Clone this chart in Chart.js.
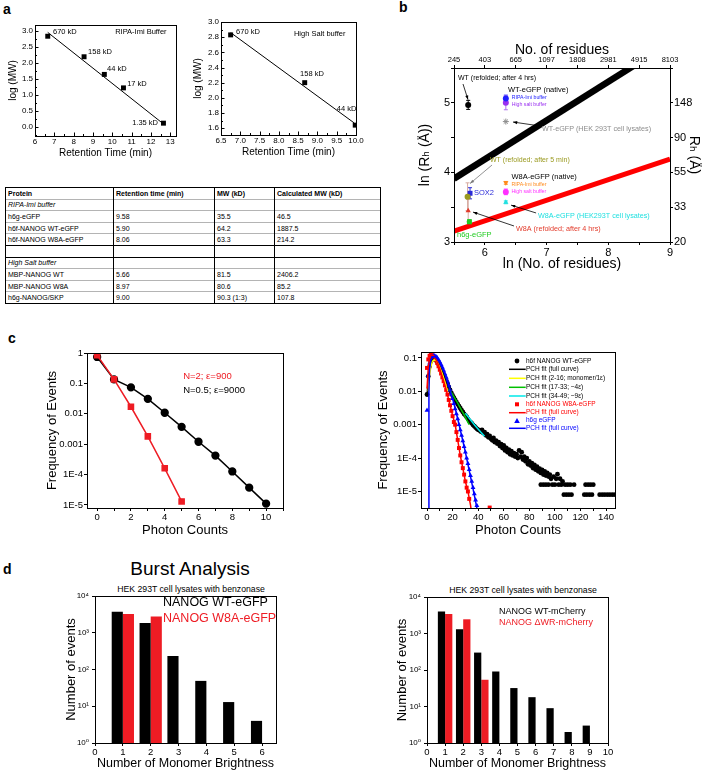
<!DOCTYPE html>
<html>
<head>
<meta charset="utf-8">
<title>NANOG figure</title>
<script src="https://cdn.jsdelivr.net/npm/chart.js@4.4.1/dist/chart.umd.min.js"></script>
<style>
  html, body { margin: 0; padding: 0; background: #fff; }
  body { position: relative; width: 706px; height: 771px; overflow: hidden; font-family: 'Liberation Sans', Arial, sans-serif; color: #000; }
  canvas { position: absolute; }
  .txt { position: absolute; white-space: nowrap; line-height: 1; transform: translate(-50%, -50%); }
  .txt.left { transform: translate(0, -50%); }
  #tbl { position: absolute; left: 5px; top: 187px; border-collapse: collapse; font-size: 7px; border: 1.5px solid #000; }
  #tbl tr { height: 11.6px; }
  #tbl td { padding: 0 0 0 2px; line-height: 1; border-left: 1px solid #000; border-right: 1px solid #000; border-top: 1px solid #b4b4b4; white-space: nowrap; }
  #tbl tr.thick td { border-top: 1.5px solid #000; }
</style>
</head>
<body>
<script>
const FONT = "'Liberation Sans', Arial, 'DejaVu Sans', sans-serif";
Chart.defaults.font.family = FONT;
Chart.defaults.color = '#000';
Chart.defaults.animation = false;
Chart.defaults.responsive = false;
Chart.defaults.plugins.legend.display = false;
Chart.defaults.plugins.tooltip.enabled = false;

// ---------- panel a : calibration curves ----------
const rtRipa = [6.66, 8.54, 9.59, 10.58, 12.65];
const logMwRipa = [2.83, 2.19, 1.64, 1.22, 0.12];
const mwLabelsRipa = ['670 kD', '158 kD', '44 kD', '17 kD', '1.35 kD'];
const fitRipaX = [6.66, 12.6];
const fitRipaY = [2.95, 0.12];

const rtSalt = [6.75, 8.67, 9.98];
const logMwSalt = [2.83, 2.2, 1.64];
const mwLabelsSalt = ['670 kD', '158 kD', '44 kD'];
const fitSaltX = [6.75, 9.95];
const fitSaltY = [2.86, 1.67];

// table
const tblHead = ['Protein', 'Retention time (min)', 'MW (kD)', 'Calculated MW (kD)'];
const tblRipa = [
  ['h6g-eGFP', '9.58', '35.5', '46.5'],
  ['h6f-NANOG WT-eGFP', '5.90', '64.2', '1887.5'],
  ['h6f-NANOG W8A-eGFP', '8.06', '63.3', '214.2']
];
const tblSalt = [
  ['MBP-NANOG WT', '5.66', '81.5', '2406.2'],
  ['MBP-NANOG W8A', '8.97', '80.6', '85.2'],
  ['h6g-NANOG/SKP', '9.00', '90.3 (1:3)', '107.8']
];

// ---------- panel b : Rh vs residues ----------
const bLnN  = [5.73, 6.34, 6.34, 6.34, 5.72, 5.76, 5.73, 5.75, 6.34, 6.34, 6.34];
const bLnRh = [4.97, 5.06, 5.00, 4.73, 3.65, 3.70, 3.45, 3.29, 3.85, 3.72, 3.57];
const bErr  = [0.065, 0.05, 0.10, 0, 0.20, 0.08, 0.16, 0.03, 0.02, 0.04, 0.02];
const unfoldedX = [5.5, 9.0];
const unfoldedY = [3.91, 5.86];
const foldedX = [5.5, 9.0];
const foldedY = [3.155, 4.19];
const residueTicks = ['245', '403', '665', '1097', '1808', '2981', '4915', '8103'];
const rhTicks = ['20', '33', '55', '90', '148'];

// ---------- panel c : PCH ----------
const simCounts = [0, 1, 2, 3, 4, 5, 6, 7, 8, 9, 10];
const simN05 = [0.74, 0.135, 0.074, 0.031, 0.0108, 0.0037, 0.0012, 0.00042, 0.000126, 0.000037, 0.000011];
const simCountsN2 = [0, 1, 2, 3, 4, 5];
const simN2 = [0.85, 0.135, 0.017, 0.0018, 0.00016, 0.000013];
const logTicksC = [1, 0.1, 0.01, 0.001, 1e-4, 1e-5];
const logLabelsC = ['1', '0.1', '0.01', '0.001', '1E-4', '1E-5'];

const wtX = [0,1,2,3,4,5,6,7,8,9,10,11,12,13,14,15,16,17,18,19,20,21,22,23,24,25,26,27,28,29,30,31,32,33,34,35,36,37,38,39,40,
  41,42,43,44,45,46,47,48,49,50,51,52,53,54,55,56,57,58,59,60,61,62,63,64,65,66,67,68,69,70,71,72,73,74,75,76,77,78,79,80,
  81,82,83,84,85,86,87,88,89,90,91,92,93,94,95,96,97,99,101,102,104,106,
  89,91,93,95,98,100,103,105,108,110,112,115,124,126,128,130,
  107,109,111,113,123,125,127,129,135,137,139,141,143,145,147];
const wtY = [0.008,0.028,0.055,0.078,0.09,0.095,0.092,0.085,0.076,0.066,0.056,0.047,0.039,0.032,0.026,0.021,0.017,0.0135,0.011,0.009,0.0075,
  0.0064,0.0055,0.0047,0.0041,0.0036,0.0031,0.0027,0.0024,0.0021,0.0019,0.0017,0.0015,0.0013,0.0012,0.0011,0.00098,0.0009,0.00082,0.00075,0.0007,
  0.00068,0.00062,0.0007,0.00056,0.0006,0.00048,0.00052,0.00042,0.00046,0.00038,0.00034,0.0004,0.0003,0.00033,0.00027,0.0003,0.00023,0.00026,0.0002,0.00024,
  0.00017,0.0002,0.00015,0.00018,0.00013,0.00016,0.00012,0.00014,0.00011,0.00013,0.0001,0.00017,0.00011,0.00015,0.00009,0.00011,0.00008,0.0001,0.000065,0.00008,
  0.00006,0.00007,0.00005,0.000062,0.000045,0.000055,0.00004,0.000048,0.000036,0.000044,0.000032,0.00004,0.00003,0.000036,0.000028,0.000032,0.000024,0.000028,0.000024,0.000033,0.000024,0.00002,
  1.6e-5,1.6e-5,1.6e-5,1.6e-5,1.6e-5,1.6e-5,1.6e-5,1.6e-5,1.6e-5,1.6e-5,1.6e-5,1.6e-5,1.6e-5,1.6e-5,1.6e-5,1.6e-5,
  8e-6,8e-6,8e-6,8e-6,8e-6,8e-6,8e-6,8e-6,8e-6,8e-6,8e-6,8e-6,8e-6,8e-6,8e-6];
const w8aX = [0,1,2,3,4,5,6,7,8,9,10,11,12,13,14,15,16,17,18,19,20,21,22,23,24,25,26,27,28,29,30,31,32,33,49];
const w8aY = [0.05,0.09,0.115,0.125,0.12,0.11,0.1,0.085,0.07,0.056,0.044,0.034,0.026,0.02,0.015,0.011,0.008,0.0055,0.0038,0.0026,0.0018,
  0.0012,0.001,0.0006,0.00035,0.0002,0.00012,0.000075,0.00005,0.000032,0.00002,0.000013,0.00001,0.000006,0.0000033];
const egfpX = [0,1,2,3,4,5,6,7,8,9,10,11,12,13,14,15,16,17,18,19,20,21,22,23,24,25,26,27,28,29,30,31,32,33,34,35,36,37,38,39];
const egfpY = [0.0027,0.03,0.07,0.095,0.11,0.115,0.115,0.11,0.1,0.088,0.075,0.063,0.052,0.042,0.033,0.026,0.02,0.015,0.011,0.0082,0.006,
  0.0043,0.003,0.0021,0.0015,0.001,0.0007,0.00048,0.00033,0.00022,0.00015,0.0001,0.000068,0.000045,0.00003,0.00002,0.000013,0.0000085,0.0000055,0.0000038];
const wtFitX = [0,1,2,3,4,5,6,8,10,12,14,16,18,20,24,28,32,36,40,44];
const wtFitY = [0.007,0.025,0.05,0.072,0.085,0.09,0.088,0.075,0.055,0.039,0.026,0.017,0.011,0.0077,0.0042,0.0025,0.0016,0.0011,0.00075,0.00055];
const monoFitX = [1,2,3,4,5,6,7,8,10,12,14,16];
const monoFitY = [0.01,0.03,0.055,0.075,0.085,0.087,0.083,0.074,0.052,0.033,0.019,0.01];
const tetFitX = [17,20,23,26,29,31,33];
const tetFitY = [0.012,0.008,0.0052,0.0032,0.002,0.0014,0.001];
const nonFitX = [30,34,38,42,45];
const nonFitY = [0.0022,0.0014,0.0009,0.0006,0.00045];
const w8aFitX = [0,1,2,3,4,5,6,8,10,12,14,16,18,20,22,24,26,28,30,32,34,35];
const w8aFitY = [0.012,0.05,0.09,0.115,0.122,0.118,0.105,0.075,0.047,0.027,0.015,0.0078,0.0039,0.0019,0.001,0.00035,0.00012,0.00005,0.00002,0.00001,0.000004,0.000002];
const egfpFitX = [1,1.5,2,3,4,6,8,10,12,14,16,18,20,22,24,26,28,30,32,34,36,38,40];
const egfpFitY = [1e-7,0.01,0.045,0.085,0.105,0.11,0.095,0.073,0.05,0.032,0.019,0.011,0.006,0.0031,0.0015,0.0007,0.00033,0.00015,0.000065,0.000028,0.000012,0.000005,0.000002];

// ---------- panel d : burst analysis ----------
const brightEgfp = [1, 2, 3, 4, 5, 6];
const eventsWtEgfp = [3700, 1830, 234, 49, 13, 4];
const eventsW8aEgfp = [3240, 2760];
const brightMch = [1, 2, 3, 4, 5, 6, 7, 8, 9];
const eventsWtMch = [4000, 1300, 300, 91, 32, 18, 9, 2, 3];
const eventsDwrMch = [3400, 2450, 54];
const logTicksD = [1, 10, 100, 1000, 10000];
const logLabelsD = ['10\u2070', '10\u00b9', '10\u00b2', '10\u00b3', '10\u2074'];

// ---------- helpers ----------
const pts = (xs, ys) => xs.map((x, i) => ({ x: x, y: ys[i] }));

function addText(str, x, y, css, left) {
  const d = document.createElement('div');
  d.className = 'txt' + (left ? ' left' : '');
  d.style.left = x + 'px';
  d.style.top = y + 'px';
  d.style.cssText += css || '';
  d.textContent = str;
  document.body.appendChild(d);
}

function place(box) {
  const c = document.createElement('canvas');
  c.width = box.w; c.height = box.h;
  c.style.left = box.l + 'px'; c.style.top = box.t + 'px';
  c.style.width = box.w + 'px'; c.style.height = box.h + 'px';
  document.body.appendChild(c);
  return c;
}

function ax(type, min, max, fit, ticks, title, extra) {
  return Object.assign({
    type: type, min: min, max: max,
    afterFit: fit,
    grid: { display: true, drawOnChartArea: false, drawTicks: true, tickLength: 3, offset: false, color: '#000', tickColor: '#000', tickWidth: 1 },
    border: { display: true, color: '#000', width: 1 },
    ticks: Object.assign({ autoSkip: false, maxRotation: 0, padding: 1, includeBounds: false, color: '#000' }, ticks),
    title: title ? Object.assign({ display: true, color: '#000', padding: 0 }, title) : { display: false }
  }, extra || {});
}
const wFit = w => s => { s.width = w; };
const hFit = h => s => { s.height = h; };
const noTicks = { display: true, drawOnChartArea: false, drawTicks: false, offset: false, color: '#000' };

Chart.register({
  id: 'frame',
  afterDatasetsDraw(chart) {
    const a = chart.chartArea, ctx = chart.ctx;
    ctx.save();
    ctx.strokeStyle = '#000'; ctx.lineWidth = 1;
    ctx.strokeRect(Math.round(a.left) + 0.5, Math.round(a.top) + 0.5, Math.round(a.right - a.left), Math.round(a.bottom - a.top));
    ctx.restore();
  }
});

Chart.register({
  id: 'errbars',
  beforeDatasetsDraw(chart) {
    const ys = chart.scales.y, ctx = chart.ctx;
    chart.data.datasets.forEach((ds, i) => {
      if (!ds.err) return;
      const meta = chart.getDatasetMeta(i);
      meta.data.forEach((pt, j) => {
        const e = ds.err[j];
        if (!e) return;
        const v = ds.data[j].y;
        const y1 = ys.getPixelForValue(v - e), y2 = ys.getPixelForValue(v + e);
        ctx.save();
        ctx.strokeStyle = ds.errColor || ds.borderColor;
        ctx.lineWidth = 1;
        ctx.beginPath();
        ctx.moveTo(pt.x, y1); ctx.lineTo(pt.x, y2);
        ctx.moveTo(pt.x - 2, y1); ctx.lineTo(pt.x + 2, y1);
        ctx.moveTo(pt.x - 2, y2); ctx.lineTo(pt.x + 2, y2);
        ctx.stroke();
        ctx.restore();
      });
    });
  }
});

// Origin-style ticks pointing into the plot (panel a)
const inTicks = {
  id: 'inTicks',
  afterDatasetsDraw(chart) {
    const ctx = chart.ctx, a = chart.chartArea;
    ctx.save();
    ctx.strokeStyle = '#000'; ctx.lineWidth = 1;
    ['x', 'y'].forEach(id => {
      const s = chart.scales[id];
      s.ticks.forEach(t => {
        const len = t.label !== '' ? 3.5 : 2;
        const p = Math.round(s.getPixelForValue(t.value)) + 0.5;
        ctx.beginPath();
        if (id === 'x') { ctx.moveTo(p, a.bottom); ctx.lineTo(p, a.bottom - len); }
        else { ctx.moveTo(a.left, p); ctx.lineTo(a.left + len, p); }
        ctx.stroke();
      });
    });
    ctx.restore();
  }
};

// text and arrows placed in data coordinates
function notes(items) {
  return {
    id: 'notes',
    afterDraw(chart) {
      const ctx = chart.ctx, xs = chart.scales.x, ys = chart.scales.y;
      ctx.save();
      items.forEach(n => {
        if (n.arrow) {
          const x1 = xs.getPixelForValue(n.arrow[0]), y1 = ys.getPixelForValue(n.arrow[1]);
          const x2 = xs.getPixelForValue(n.arrow[2]), y2 = ys.getPixelForValue(n.arrow[3]);
          const ang = Math.atan2(y2 - y1, x2 - x1);
          ctx.strokeStyle = n.c || '#000'; ctx.fillStyle = n.c || '#000'; ctx.lineWidth = 0.8;
          ctx.beginPath(); ctx.moveTo(x1, y1); ctx.lineTo(x2, y2); ctx.stroke();
          ctx.beginPath();
          ctx.moveTo(x2, y2);
          ctx.lineTo(x2 - 4.5 * Math.cos(ang - 0.35), y2 - 4.5 * Math.sin(ang - 0.35));
          ctx.lineTo(x2 - 4.5 * Math.cos(ang + 0.35), y2 - 4.5 * Math.sin(ang + 0.35));
          ctx.closePath(); ctx.fill();
          return;
        }
        ctx.font = (n.w || '') + ' ' + n.s + 'px ' + FONT;
        ctx.fillStyle = n.c || '#000';
        ctx.textAlign = n.a || 'left';
        ctx.textBaseline = 'middle';
        ctx.fillText(n.t, xs.getPixelForValue(n.x), ys.getPixelForValue(n.y));
      });
      ctx.restore();
    }
  };
}

// legend rows placed relative to the plot's top-left corner
function keys(rows) {
  return {
    id: 'keys',
    afterDraw(chart) {
      const ctx = chart.ctx, a = chart.chartArea;
      ctx.save();
      rows.forEach(r => {
        const y = a.top + r.dy;
        if (r.line) {
          ctx.strokeStyle = r.line; ctx.lineWidth = r.lw || 1.5;
          ctx.beginPath(); ctx.moveTo(a.left + r.x1, y); ctx.lineTo(a.left + r.x2, y); ctx.stroke();
        }
        if (r.mark) {
          const cx = a.left + r.mx;
          ctx.fillStyle = r.mc;
          ctx.beginPath();
          if (r.mark === 'circle') ctx.arc(cx, y, 2.4, 0, Math.PI * 2);
          else if (r.mark === 'rect') ctx.rect(cx - 2, y - 2, 4, 4);
          else { ctx.moveTo(cx, y - 2.8); ctx.lineTo(cx + 2.8, y + 2.2); ctx.lineTo(cx - 2.8, y + 2.2); ctx.closePath(); }
          ctx.fill();
        }
        ctx.font = (r.w || '') + ' ' + r.s + 'px ' + FONT;
        ctx.fillStyle = r.c; ctx.textAlign = 'left'; ctx.textBaseline = 'middle';
        ctx.fillText(r.t, a.left + r.tx, y);
      });
      ctx.restore();
    }
  };
}

const lineDs = (xs, ys, color, width, order) => ({
  data: pts(xs, ys), showLine: true, borderColor: color, borderWidth: width,
  pointRadius: 0, fill: false, clip: 0, order: order || 0, tension: 0
});
const pointDs = (xs, ys, color, style, r, order, extra) => Object.assign({
  data: pts(xs, ys), showLine: false, pointStyle: style, pointRadius: r,
  backgroundColor: color, borderColor: color, borderWidth: 0, order: order || 0
}, extra || {});

// ---------- labels outside the plots ----------
addText('a', 3, 9, 'font-weight:bold;font-size:14px;', true);
addText('b', 399, 7, 'font-weight:bold;font-size:14px;', true);
addText('c', 8, 338, 'font-weight:bold;font-size:14px;', true);
addText('d', 3, 569, 'font-weight:bold;font-size:14px;', true);
addText('Burst Analysis', 190, 568, 'font-size:19px;');
addText('HEK 293T cell lysates with benzonase', 191, 589, 'font-size:8.7px;');
addText('HEK 293T cell lysates with benzonase', 523, 590, 'font-size:8.7px;');

// ---------- table ----------
(function () {
  const t = document.createElement('table');
  t.id = 'tbl';
  const widths = [105, 98, 57, 103];
  const addRow = (cells, cls, css) => {
    const tr = document.createElement('tr');
    if (cls) tr.className = cls;
    cells.forEach((c, i) => {
      const td = document.createElement('td');
      td.style.width = widths[i] + 'px';
      td.style.cssText += css || '';
      td.textContent = c;
      tr.appendChild(td);
    });
    t.appendChild(tr);
  };
  addRow(tblHead, 'thick', 'font-weight:bold;');
  addRow(['RIPA-Imi buffer', '', '', ''], '', 'font-style:italic;');
  tblRipa.forEach(r => addRow(r));
  addRow(['', '', '', ''], 'thick');
  addRow(['High Salt buffer', '', '', ''], 'thick', 'font-style:italic;');
  tblSalt.forEach(r => addRow(r));
  document.body.appendChild(t);
})();

// ---------- a (left) ----------
new Chart(place({ l: 7, t: 14, w: 177, h: 145 }), {
  type: 'scatter',
  data: { datasets: [
    lineDs(fitRipaX, fitRipaY, '#000', 1, 0),
    pointDs(rtRipa, logMwRipa, '#000', 'rect', 3.5, 1)
  ] },
  options: {
    layout: { padding: { top: 11, right: 8 } },
    scales: {
      x: ax('linear', 6, 13.3, hFit(23), { stepSize: 0.5, font: { size: 8 }, padding: 1, callback: v => Number.isInteger(v) ? String(v) : '' },
        { text: 'Retention Time (min)', font: { size: 10 } }, { grid: noTicks }),
      y: ax('linear', -0.28, 3.18, wFit(28), { stepSize: 0.25, font: { size: 8 }, padding: 2,
        callback: v => Math.abs(v * 2 - Math.round(v * 2)) < 1e-6 ? v.toFixed(1) : '' },
        { text: 'log (MW)', font: { size: 10 } }, { grid: noTicks })
    }
  },
  plugins: [inTicks, notes(mwLabelsRipa.map((t, i) => ({ t: t, s: 7.5,
    x: [6.93, 8.75, 9.73, 10.77, 11.03][i], y: [2.96, 2.34, 1.81, 1.34, 0.12][i] }))
    .concat([{ t: 'RIPA-Imi Buffer', s: 7.5, x: 10.15, y: 2.96 }]))]
});

// ---------- a (right) ----------
new Chart(place({ l: 192, t: 12, w: 173, h: 146 }), {
  type: 'scatter',
  data: { datasets: [
    lineDs(fitSaltX, fitSaltY, '#000', 1, 0),
    pointDs(rtSalt, logMwSalt, '#000', 'rect', 3.5, 1)
  ] },
  options: {
    layout: { padding: { top: 10, right: 9 } },
    scales: {
      x: ax('linear', 6.5, 10.0, hFit(23), { stepSize: 0.25, font: { size: 8 }, padding: 1,
        callback: v => Math.abs(v * 2 - Math.round(v * 2)) < 1e-6 ? v.toFixed(1) : '' },
        { text: 'Retention Time (min)', font: { size: 10 } }, { grid: noTicks }),
      y: ax('linear', 1.51, 3.0, wFit(29), { stepSize: 0.1, font: { size: 8 }, padding: 2,
        callback: v => Math.abs(v * 5 - Math.round(v * 5)) < 1e-6 ? v.toFixed(1) : '' },
        { text: 'log (MW)', font: { size: 10 } }, { grid: noTicks })
    }
  },
  plugins: [inTicks, notes(mwLabelsSalt.map((t, i) => ({ t: t, s: 7.5,
    x: [6.89, 8.55, 9.5][i], y: [2.87, 2.31, 1.86][i] }))
    .concat([{ t: 'High Salt buffer', s: 7.5, x: 8.39, y: 2.84 }]))]
});

// ---------- b ----------
const bColors = ['#000000', '#2020ff', '#9a30f0', '#8c8c8c', '#9a9a20', '#2a2ad8', '#e23a2a', '#22cc22', '#ff8a1a', '#ff30ff', '#20e0e0'];
const bShapes = ['circle', 'circle', 'circle', 'star', 'circle', 'rect', 'triangle', 'rect', 'triangle', 'circle', 'triangle'];
const bRot = [0, 0, 0, 0, 0, 0, 0, 0, 180, 0, 0];
const bErrCol = ['#000', '#2020ff', '#b070f0', '#888', '#d6aaa0', '#2a2ad8', '#d6aaa0', '#22cc22', '#ff8a1a', '#ff30ff', '#20e0e0'];
const bSets = bLnN.map((x, i) => ({
  data: [{ x: x, y: bLnRh[i] }], showLine: false, pointStyle: bShapes[i], rotation: bRot[i],
  pointRadius: bShapes[i] === 'rect' ? 3.5 : 3, backgroundColor: bColors[i], borderColor: bColors[i],
  borderWidth: bShapes[i] === 'star' ? 1 : 0, err: [bErr[i]], errColor: bErrCol[i], order: 1
}));
new Chart(place({ l: 417, t: 42, w: 285, h: 231 }), {
  type: 'scatter',
  data: { datasets: [lineDs(unfoldedX, unfoldedY, '#000', 6.5, 2), lineDs(foldedX, foldedY, '#ff0000', 5, 2)].concat(bSets) },
  options: {
    scales: {
      x: ax('linear', 5.5, 9, hFit(31), { stepSize: 0.5, font: { size: 11 }, callback: v => Number.isInteger(v) ? String(v) : '' },
        { text: 'ln (No. of residues)', font: { size: 14 } }),
      xTop: ax('linear', 5.5, 9, hFit(26), { stepSize: 0.5, font: { size: 7.5 }, callback: (v, i) => residueTicks[i] || '' },
        { text: 'No. of residues', font: { size: 14 } }, { position: 'top' }),
      y: ax('linear', 3, 5.5, wFit(37), { stepSize: 0.5, font: { size: 11 }, callback: v => Number.isInteger(v) ? String(v) : '' },
        { text: 'ln (R\u2095 (\u00c5))', font: { size: 14 } }),
      yRight: ax('linear', 3, 5.5, wFit(32), { stepSize: 0.5, font: { size: 11 }, callback: (v, i) => rhTicks[i] || '' },
        { text: 'R\u2095 (\u00c5)', font: { size: 14 } }, { position: 'right' })
    }
  },
  plugins: [notes([
    { t: 'WT (refolded; after 4 hrs)', s: 7, x: 5.565, y: 5.356 },
    { arrow: [5.646, 5.27, 5.727, 5.045] },
    { t: 'WT-eGFP (native)', s: 7.5, x: 6.375, y: 5.184 },
    { t: 'RIPA-Imi buffer', s: 5.2, x: 6.435, y: 5.07, c: '#2020ff' },
    { t: 'High salt buffer', s: 5.2, x: 6.435, y: 4.97, c: '#9a30f0' },
    { t: 'WT-eGFP (HEK 293T cell lysates)', s: 7.2, x: 6.926, y: 4.624, c: '#8c8c8c' },
    { arrow: [6.894, 4.667, 6.456, 4.724] },
    { t: 'WT (refolded; after 5 min)', s: 7, x: 6.083, y: 4.178, c: '#9a9a20' },
    { arrow: [6.116, 4.106, 5.76, 3.84], c: '#777' },
    { t: 'SOX2', s: 7.5, x: 5.824, y: 3.704, c: '#2a2ad8' },
    { t: 'W8A-eGFP (native)', s: 7.5, x: 6.43, y: 3.934 },
    { t: 'RIPA-Imi buffer', s: 5.2, x: 6.43, y: 3.82, c: '#ff8a1a' },
    { t: 'High salt buffer', s: 5.2, x: 6.43, y: 3.72, c: '#ff30ff' },
    { t: 'W8A-eGFP (HEK293T cell lysates)', s: 7.2, x: 6.86, y: 3.374, c: '#20e0e0' },
    { arrow: [6.83, 3.417, 6.424, 3.53] },
    { t: 'W8A (refolded; after 4 hrs)', s: 7.2, x: 6.505, y: 3.187, c: '#e23a2a' },
    { arrow: [6.472, 3.23, 5.808, 3.43] },
    { t: 'h6g-eGFP', s: 7.5, x: 5.549, y: 3.1, c: '#22cc22' }
  ])]
});

// ---------- c (left) ----------
const decadesC = s => { s.ticks = logTicksC.map(v => ({ value: v })); };
new Chart(place({ l: 45, t: 345, w: 248, h: 193 }), {
  type: 'scatter',
  data: { datasets: [
    Object.assign(pointDs(simCountsN2, simN2, '#ee1c24', 'rect', 3.6, 0), { showLine: true, borderWidth: 1.5, borderColor: '#ee1c24' }),
    Object.assign(pointDs(simCounts, simN05, '#000', 'circle', 3.4, 1), { showLine: true, borderWidth: 1.5, borderColor: '#000' })
  ] },
  options: {
    layout: { padding: { top: 8, right: 10 } },
    scales: {
      x: ax('linear', -0.6, 11, hFit(30), { stepSize: 1, font: { size: 9.5 }, callback: v => v % 2 === 0 ? String(v) : '' },
        { text: 'Photon Counts', font: { size: 13 } }),
      y: ax('logarithmic', 7.9e-6, 1, wFit(42), { font: { size: 9.5 }, callback: v => logLabelsC[logTicksC.indexOf(v)] || '' },
        { text: 'Frequency of Events', font: { size: 13 } }, { afterBuildTicks: decadesC })
    }
  },
  plugins: [notes([
    { t: 'N=2; \u03b5=900', s: 9.5, x: 5.09, y: 0.17, c: '#ee1c24' },
    { t: 'N=0.5; \u03b5=9000', s: 9.5, x: 5.09, y: 0.06 }
  ])]
});

// ---------- c (right) ----------
new Chart(place({ l: 376, t: 344, w: 249, h: 194 }), {
  type: 'scatter',
  data: { datasets: [
    lineDs(egfpFitX, egfpFitY, '#0000ff', 1.5, 1),
    lineDs(w8aFitX, w8aFitY, '#ff0000', 1.5, 1),
    lineDs(nonFitX, nonFitY, '#00e8e8', 1.5, 2),
    lineDs(tetFitX, tetFitY, '#00c000', 1.5, 2),
    lineDs(monoFitX, monoFitY, '#ffff00', 1.5, 2),
    lineDs(wtFitX, wtFitY, '#000', 1.5, 3),
    pointDs(egfpX, egfpY, '#0000ff', 'triangle', 2.8, 4),
    pointDs(w8aX, w8aY, '#ff0000', 'rect', 2.8, 5),
    pointDs(wtX, wtY, '#000', 'circle', 2.4, 6)
  ] },
  options: {
    layout: { padding: { top: 8, right: 10 } },
    scales: {
      x: ax('linear', -4.7, 147, hFit(30), { stepSize: 10, font: { size: 9.5 }, callback: v => v % 20 === 0 ? String(v) : '' },
        { text: 'Photon Counts', font: { size: 13 } }),
      y: ax('logarithmic', 3.2e-6, 0.15, wFit(45), { font: { size: 9.5 }, callback: v => logLabelsC[logTicksC.indexOf(v)] || '' },
        { text: 'Frequency of Events', font: { size: 13 } }, { afterBuildTicks: s => { s.ticks = logTicksC.slice(1).map(v => ({ value: v })); } })
    }
  },
  plugins: [keys([
    { dy: 9, mark: 'circle', mc: '#000', mx: 96, tx: 105, t: 'h6f NANOG WT-eGFP', c: '#000', s: 6.5 },
    { dy: 17.3, line: '#000', x1: 88, x2: 104.7, tx: 105, t: 'PCH fit (full curve)', c: '#000', s: 6.5 },
    { dy: 26.3, line: '#ffff00', x1: 88, x2: 104.7, tx: 105, t: 'PCH fit (2-16; monomer/1\u03b5)', c: '#000', s: 6.5 },
    { dy: 35.3, line: '#00c000', x1: 88, x2: 104.7, tx: 105, t: 'PCH fit (17-33; ~4\u03b5)', c: '#000', s: 6.5 },
    { dy: 44, line: '#00e8e8', x1: 88, x2: 104.7, tx: 105, t: 'PCH fit (34-49; ~9\u03b5)', c: '#000', s: 6.5 },
    { dy: 52.3, mark: 'rect', mc: '#ff0000', mx: 96, tx: 105, t: 'h6f NANOG W8A-eGFP', c: '#ff0000', s: 6.5 },
    { dy: 60.7, line: '#ff0000', x1: 88, x2: 104.7, tx: 105, t: 'PCH fit (full curve)', c: '#ff0000', s: 6.5 },
    { dy: 68.7, mark: 'tri', mc: '#0000ff', mx: 96, tx: 105, t: 'h6g eGFP', c: '#0000ff', s: 6.5 },
    { dy: 76.3, line: '#0000ff', x1: 88, x2: 104.7, tx: 105, t: 'PCH fit (full curve)', c: '#0000ff', s: 6.5 }
  ])]
});

// ---------- d ----------
const decadesD = s => { s.ticks = logTicksD.map(v => ({ value: v })); };
function burst(box, xmax, pad, wy, bx, wt, mut, mutX, legend) {
  return new Chart(place(box), {
    type: 'bar',
    data: { datasets: [
      { data: pts(bx, wt), backgroundColor: '#000', borderWidth: 0, barPercentage: 1, categoryPercentage: 0.8 },
      { data: pts(mutX, mut), backgroundColor: '#ee1c24', borderWidth: 0, barPercentage: 1, categoryPercentage: 0.8 }
    ] },
    options: {
      layout: { padding: pad },
      scales: {
        x: ax('linear', 0, xmax, hFit(28), { stepSize: 1, font: { size: 9.5 } },
          { text: 'Number of Monomer Brightness', font: { size: 12.5 } }, { offset: false }),
        y: ax('logarithmic', 1, 10000, wFit(wy), { font: { size: 8 }, padding: 3, callback: v => logLabelsD[logTicksD.indexOf(v)] || '' },
          { text: 'Number of events', font: { size: 13 } }, { afterBuildTicks: decadesD })
      }
    },
    plugins: [keys(legend)]
  });
}
burst({ l: 64, t: 588, w: 220, h: 183 }, 6.5, { top: 8, right: 8 }, 31, brightEgfp, eventsWtEgfp, eventsW8aEgfp, [1, 2], [
  { dy: 7, tx: 68, t: 'NANOG WT-eGFP', c: '#000', s: 12.5 },
  { dy: 23, tx: 68, t: 'NANOG W8A-eGFP', c: '#ee1c24', s: 12.5 }
]);
burst({ l: 395, t: 589, w: 223, h: 182 }, 10, { top: 8, right: 10 }, 32, brightMch, eventsWtMch, eventsDwrMch, [1, 2, 3], [
  { dy: 15, tx: 72, t: 'NANOG WT-mCherry', c: '#000', s: 9 },
  { dy: 26, tx: 72, t: 'NANOG \u0394WR-mCherry', c: '#ee1c24', s: 9 }
]);
</script>
</body>
</html>
